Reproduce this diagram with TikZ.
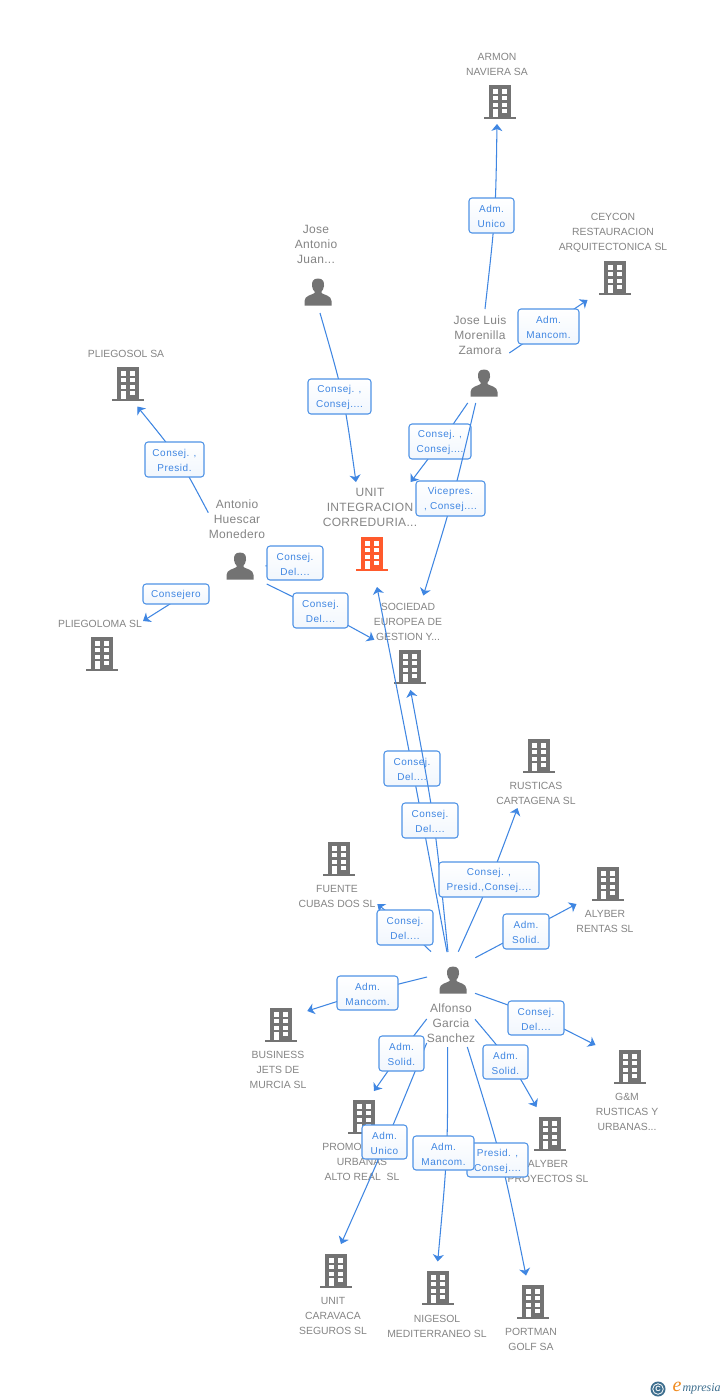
\documentclass[tikz,border=0pt]{standalone}
\usepackage{fontspec}
\setmainfont{Liberation Sans}
\newfontfamily\tagfont[LetterSpace=5]{Liberation Sans}
\newfontfamily\whofont[LetterSpace=2.5]{Liberation Sans}
\newfontfamily\logofont{Liberation Serif}
\usetikzlibrary{arrows.meta,calc}
\definecolor{txtgray}{HTML}{858585}
\definecolor{icongray}{HTML}{737373}
\definecolor{linkblue}{HTML}{3F86E2}
\definecolor{boxblue}{HTML}{4F93E6}
\definecolor{orangeicon}{HTML}{FF5A2C}
\definecolor{logoblue}{HTML}{3D6E8E}
\definecolor{logoorange}{HTML}{F08A1E}
\tikzset{
  every node/.style={inner sep=0pt,outer sep=0pt},
  org/.style={text=txtgray,align=center,yshift=-0.7pt,font=\fontsize{10.4}{15}\selectfont},
  who/.style={text=txtgray,align=center,yshift=-0.4pt,font=\whofont\fontsize{12}{15}\selectfont},
  tag/.style={draw=boxblue,line width=1.05pt,rounded corners=3pt,top color=white,bottom color=white!92!boxblue,
    text=linkblue,align=center,font=\tagfont\fontsize{10}{15}\selectfont},
  conn/.style={draw=linkblue,line width=1.05pt,-{Stealth[length=7pt,width=11pt,inset=2pt]}},
  plainconn/.style={draw=linkblue,line width=1.05pt},
  iconspot/.style={minimum width=30pt,minimum height=30pt}
}
% building icon
\newcommand\bldg[4][icongray]{%
  \node[iconspot] (#2) at (#3,#4) {};
  \begin{scope}[shift={(#3,#4)}]
    \fill[#1] (-16,15) rectangle (16,17.2);
    \fill[#1] (-11,-17) rectangle (11,15.5);
    \fill[white] (-7.3,-12.8) rectangle (-2.4,-8.4);
    \fill[white] (2.2,-12.8) rectangle (7.2,-8.4);
    \fill[white] (-7.3,-6) rectangle (-2.4,-1.7);
    \fill[white] (2.2,-6) rectangle (7.2,-1.7);
    \fill[white] (-7.3,1.2) rectangle (-2.4,5);
    \fill[white] (2.2,1.2) rectangle (7.2,5);
    \fill[white] (-7.3,7) rectangle (-2.4,15);
    \fill[white] (2.2,6.5) rectangle (7.2,10.8);
  \end{scope}}
% person icon
\newcommand\persona[3]{%
  \node[iconspot] (#1) at (#2,#3) {};
  \begin{scope}[shift={(#2,#3)}]
    \fill[icongray] (0,-13.5) .. controls (-5,-13.5) and (-6.5,-10) .. (-6,-6)
      .. controls (-5.6,-3) and (-4.5,-1.5) .. (-3.5,-0.5) -- (-3.5,1)
      .. controls (-6,3) and (-13.5,3.5) .. (-13.5,9) -- (-13.5,13.5) -- (13.5,13.5) -- (13.5,9)
      .. controls (13.5,3.5) and (6,3) .. (3.5,1) -- (3.5,-0.5)
      .. controls (4.5,-1.5) and (5.6,-3) .. (6,-6)
      .. controls (6.5,-10) and (5,-13.5) .. (0,-13.5) -- cycle;
  \end{scope}}
% connector (start, via, end) followed by its role tag, painted in that order
% \rel[style]{id}{x1}{x2}{y1}{y2}{start}{via}{end}{text}
\newcommand\rel[9][conn]{%
  \coordinate (s#2) at (#7);
  \coordinate (m#2) at (#8);
  \coordinate (e#2) at (#9);
  \draw[#1] (s#2) .. controls ($1.3333*(m#2.center)-0.1667*(s#2.center)-0.1667*(e#2.center)$) .. (e#2);
  \reltag{#2}{#3}{#4}{#5}{#6}}
\newcommand\reltag[6]{%
  \node[tag,minimum width=#3pt-#2pt,minimum height=#5pt-#4pt] (a#1) at ({(#2+#3)/2},{(#4+#5)/2}) {\rule{0pt}{9.5pt}#6};}
\begin{document}
\begin{tikzpicture}[x=1pt,y=-1pt]
\useasboundingbox (0,0) rectangle (728,1400);
\fill[white] (0,0) rectangle (728,1400);

% companies
\node[org] (tarmon) at (497,63.5) {ARMON\\NAVIERA SA};
\bldg{armon}{500}{102}
\node[org] (tceycon) at (613,232) {CEYCON\\RESTAURACION\\ARQUITECTONICA SL};
\bldg{ceycon}{615}{278}
\node[org] (tpliegosol) at (126,353) {PLIEGOSOL SA};
\bldg{pliegosol}{128}{384}
\node[org] (tpliegoloma) at (100,623) {PLIEGOLOMA SL};
\bldg{pliegoloma}{102}{654}
\node[who] (tunit) at (370,507.5) {UNIT\\INTEGRACION\\CORREDURIA...};
\bldg[orangeicon]{unit}{372}{554}
\node[org] (tsoc) at (408,621) {SOCIEDAD\\EUROPEA DE\\GESTION Y...};
\bldg{soc}{410}{667}
\node[org] (trust) at (536,792.5) {RUSTICAS\\CARTAGENA SL};
\bldg{rust}{539}{756}
\node[org] (tfuente) at (337,895.5) {FUENTE\\CUBAS DOS SL};
\bldg{fuente}{339}{859}
\node[org] (trentas) at (605,920.5) {ALYBER\\RENTAS SL};
\bldg{rentas}{608}{884}
\node[org] (tjets) at (278,1069) {BUSINESS\\JETS DE\\MURCIA SL};
\bldg{jets}{281}{1025}
\node[org] (tgm) at (627,1111) {G\&M\\RUSTICAS Y\\URBANAS...};
\bldg{gm}{630}{1067}
\node[org] (tpromo) at (362,1161) {PROMOCIONES\\URBANAS\\ALTO REAL~ SL};
\bldg{promo}{364}{1117}
\node[org] (tproy) at (548,1170.5) {ALYBER\\PROYECTOS SL};
\bldg{proy}{550}{1134}
\node[org] (tcarav) at (333,1315) {UNIT\\CARAVACA\\SEGUROS SL};
\bldg{carav}{336}{1271}
\node[org] (tnige) at (437,1325.5) {NIGESOL\\MEDITERRANEO SL};
\bldg{nige}{438}{1288}
\node[org] (tport) at (531,1338.5) {PORTMAN\\GOLF SA};
\bldg{port}{533}{1302}

% people
\node[who] (tjuan) at (316,244) {Jose\\Antonio\\Juan...};
\persona{juan}{318}{292}
\node[who] (tjl) at (480,335) {Jose Luis\\Morenilla\\Zamora};
\persona{jl}{484}{383}
\node[who] (tant) at (237,518.5) {Antonio\\Huescar\\Monedero};
\persona{ant}{240}{566}
\node[who] (talf) at (451,1023) {Alfonso\\Garcia\\Sanchez};
\persona{alf}{453}{980}

% connectors with their role tags
\rel{1}{469}{514}{198}{233}{485,309}{494.5,215.5}{497,124}{Adm.\\Unico}
\rel{2}{518}{579}{309}{344}{509.3,353}{549,326}{587.5,300}{Adm.\\Mancom.}
\rel{3}{308}{371}{379}{414}{320,313}{342.5,396.5}{356,482}{Consej. ,\\Consej....}
\rel{4}{409}{471}{424}{459}{467.7,403}{441,441.5}{410.7,482}{Consej. ,\\Consej....}
\rel{5}{416}{485}{481}{516}{475.7,403}{452.5,498}{423.3,595.5}{Vicepres.\\, Consej....}
\rel{6}{145}{204}{442}{477}{208.3,512.7}{178,459}{137.3,406.5}{Consej. ,\\Presid.}
\rel{7}{143}{209}{584}{604}{186,594}{164.5,607.5}{143,621}{Consejero}
\rel[plainconn]{8}{267}{323}{546}{580}{265.5,566}{278,565}{290,564}{Consej.\\Del....}
\rel{9}{293}{348}{593}{628}{266.7,584}{321,611}{374.3,639.8}{Consej.\\Del....}
\rel{10}{384}{440}{751}{786}{447,952}{412.7,770}{377,587}{Consej.\\Del....}
\rel{11}{402}{458}{803}{838}{448,952}{433.5,821}{410.5,690}{Consej.\\Del....}
\rel{12}{439}{539}{862}{897}{458.3,951.7}{490,880}{517.5,808}{Consej. ,\\Presid.,Consej....}
\rel{13}{503}{549}{914}{949}{475.3,957.7}{526,931}{576.5,904}{Adm.\\Solid.}
\rel{14}{377}{433}{910}{945}{431,951.7}{405,927}{377.3,904}{Consej.\\Del....}
\rel{15}{337}{398}{976}{1010}{427,977}{367,992.5}{307.3,1011}{Adm.\\Mancom.}
\rel{16}{508}{564}{1001}{1035}{475,993.3}{536,1016}{595.5,1045}{Consej.\\Del....}
\rel{18}{483}{528}{1045}{1079}{475,1019.3}{509.5,1062}{536.5,1107}{Adm.\\Solid.}
\rel{21}{467}{528}{1143}{1177}{467.3,1047}{501,1160}{526,1275.5}{Presid. ,\\Consej....}
\rel{19}{362}{407}{1125}{1159}{426.7,1043}{385.5,1143}{341,1244}{Adm.\\Unico}
\rel{20}{413}{474}{1136}{1170}{447.7,1047}{446.5,1153}{437.7,1261.5}{Adm.\\Mancom.}
\rel{17}{379}{424}{1036}{1071}{426.7,1019}{401,1053}{374,1091}{Adm.\\Solid.}

% logo
\fill[logoblue] (658,1389) circle (7.5);
\draw[white,line width=0.8pt] (658,1389) circle (5.3);
\node[text=white,font=\fontsize{7.5}{8}\selectfont\bfseries] (logoc) at (658,1389) {C};
\node[text=logoorange,font=\logofont\fontsize{20}{20}\selectfont\itshape] (logoe) at (677,1386.5) {e};
\node[text=logoblue,anchor=west,font=\logofont\fontsize{12}{13}\selectfont\itshape] (logot) at (682.5,1389) {mpresia};
\end{tikzpicture}
\end{document}
